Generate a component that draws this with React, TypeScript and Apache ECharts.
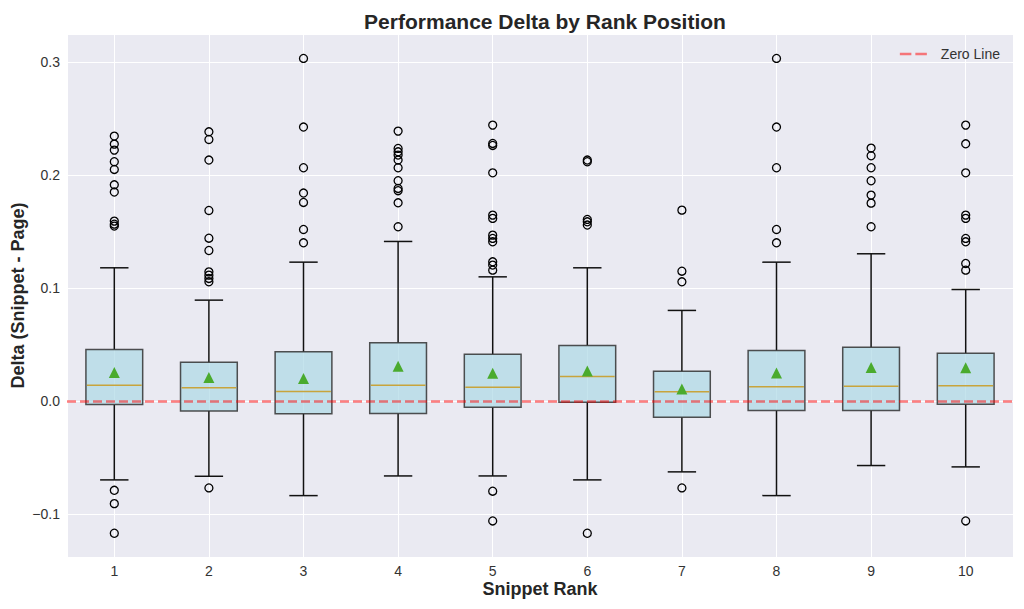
import React, { useEffect, useRef } from "react";
import * as echarts from "echarts";

const ranks = [1, 2, 3, 4, 5, 6, 7, 8, 9, 10];
const whiskerLow = [-0.0696, -0.0664, -0.0835, -0.0661, -0.0661, -0.0696, -0.0625, -0.0835, -0.0569, -0.0581];
const q1 = [-0.003, -0.0086, -0.0112, -0.0109, -0.0053, -0.0009, -0.0142, -0.0083, -0.0083, -0.0027];
const median = [0.0142, 0.0118, 0.0086, 0.0142, 0.0124, 0.0218, 0.0083, 0.0127, 0.0133, 0.0136];
const q3 = [0.0457, 0.0345, 0.0437, 0.0516, 0.0416, 0.0493, 0.0265, 0.0448, 0.0478, 0.0425];
const whiskerHigh = [0.118, 0.0894, 0.123, 0.1413, 0.11, 0.118, 0.0803, 0.123, 0.1304, 0.0988];
const means = [0.0254, 0.021, 0.0201, 0.031, 0.0248, 0.0268, 0.0109, 0.025, 0.0298, 0.0295];
const outliers: number[][] = [
  [0.2345, 0.2274, 0.2221, 0.2118, 0.205, 0.1914, 0.185, 0.1593, 0.1566, 0.1549, -0.0788, -0.0906, -0.1168],
  [0.2383, 0.2315, 0.2133, 0.1687, 0.1442, 0.1333, 0.1144, 0.1115, 0.1086, 0.1056, -0.0767],
  [0.3032, 0.2425, 0.2065, 0.1841, 0.1758, 0.1519, 0.1401],
  [0.2389, 0.2236, 0.2206, 0.2177, 0.2133, 0.2065, 0.195, 0.1882, 0.1862, 0.1755, 0.1543],
  [0.2442, 0.228, 0.2262, 0.202, 0.1646, 0.1617, 0.1469, 0.144, 0.141, 0.1233, 0.1204, 0.1159, -0.0796, -0.1059],
  [0.2133, 0.2118, 0.1608, 0.1587, 0.1558, -0.1168],
  [0.169, 0.115, 0.1056, -0.0767],
  [0.3032, 0.2425, 0.2065, 0.1519, 0.1401],
  [0.2239, 0.2171, 0.2065, 0.195, 0.1823, 0.1752, 0.1543],
  [0.2442, 0.2277, 0.202, 0.1646, 0.1617, 0.144, 0.141, 0.1218, 0.1159, -0.1059],
];

const FONT = "'Liberation Sans', Arial, sans-serif";
const ZERO_COLOR = "rgba(255,0,0,0.5)";

export default function App() {
  const ref = useRef<HTMLDivElement>(null);
  useEffect(() => {
    if (!ref.current) return;
    const chart = echarts.init(ref.current, null, { renderer: "svg" });
    const boxData = ranks.map((r, i) => [r, whiskerLow[i], q1[i], median[i], q3[i], whiskerHigh[i]]);
    const meanData = ranks.map((r, i) => [r, means[i]]);
    const outlierData: number[][] = [];
    outliers.forEach((arr, i) => arr.forEach((v) => outlierData.push([ranks[i], v])));

    chart.setOption({
      animation: false,
      backgroundColor: "#ffffff",
      textStyle: { fontFamily: FONT },
      title: {
        text: "Performance Delta by Rank Position",
        left: 540,
        textAlign: "center",
        top: 6,
        textStyle: { fontFamily: FONT, fontSize: 21, fontWeight: "bold", color: "#262626" },
      },
      legend: {
        data: [
          {
            name: "Zero Line",
            icon: "path://M0,0H11.5V2.5H0Z M15.5,0H27V2.5H15.5Z",
            itemStyle: { color: ZERO_COLOR },
          },
        ],
        right: 19,
        top: 42,
        itemWidth: 27,
        itemHeight: 14,
        itemGap: 10,
        textStyle: { fontFamily: FONT, fontSize: 14, color: "#333", padding: [0, 0, 0, 9] },
      },
      grid: {
        left: 67,
        right: 11,
        top: 34,
        bottom: 52,
        show: true,
        containLabel: false,
        outerBoundsMode: "none",
        backgroundColor: "#EAEAF2",
        borderWidth: 0,
      },
      xAxis: {
        type: "value",
        min: 0.5,
        max: 10.5,
        splitNumber: 10,
        name: "Snippet Rank",
        nameLocation: "middle",
        nameGap: 23,
        nameMoveOverlap: false,
        nameTextStyle: { fontFamily: FONT, fontSize: 18, fontWeight: "bold", color: "#262626" },
        axisLine: { show: false },
        axisTick: { show: false },
        axisLabel: {
          fontFamily: FONT,
          fontSize: 14,
          color: "#333",
          margin: 7,
          formatter: (v: number) => (Math.abs(v - Math.round(v)) > 1e-6 ? "" : String(Math.round(v))),
        },
        splitLine: { show: true, lineStyle: { color: "#ffffff", width: 1 } },
      },
      yAxis: {
        type: "value",
        min: -0.1378,
        max: 0.3248,
        splitNumber: 5,
        name: "Delta (Snippet - Page)",
        nameLocation: "middle",
        nameGap: 40,
        nameMoveOverlap: false,
        nameTextStyle: { fontFamily: FONT, fontSize: 18, fontWeight: "bold", color: "#262626" },
        axisLine: { show: false },
        axisTick: { show: false },
        axisLabel: {
          fontFamily: FONT,
          fontSize: 14,
          color: "#333",
          margin: 7,
          formatter: (v: number) => {
            const t = v * 10;
            if (Math.abs(t - Math.round(t)) > 1e-6) return "";
            return (Math.round(t) / 10).toFixed(1).replace("-", "\u2212");
          },
        },
        splitLine: { show: true, lineStyle: { color: "#ffffff", width: 1 } },
      },
      series: [
        {
          type: "custom",
          name: "boxes",
          z: 2,
          encode: { x: 0, y: [1, 2, 3, 4, 5] },
          data: boxData,
          renderItem: (params: any, api: any) => {
            const xv = api.value(0);
            const lo = api.coord([xv, api.value(1)]);
            const p1 = api.coord([xv, api.value(2)]);
            const pm = api.coord([xv, api.value(3)]);
            const p3 = api.coord([xv, api.value(4)]);
            const hi = api.coord([xv, api.value(5)]);
            const band = api.size([1, 0])[0];
            const bw = band * 0.6;
            const cw = band * 0.3;
            const cx = pm[0];
            const wStyle = { stroke: "#111111", lineWidth: 1.5 };
            return {
              type: "group",
              children: [
                { type: "line", shape: { x1: cx, y1: p1[1], x2: cx, y2: lo[1] }, style: wStyle },
                { type: "line", shape: { x1: cx, y1: p3[1], x2: cx, y2: hi[1] }, style: wStyle },
                { type: "line", shape: { x1: cx - cw / 2, y1: lo[1], x2: cx + cw / 2, y2: lo[1] }, style: wStyle },
                { type: "line", shape: { x1: cx - cw / 2, y1: hi[1], x2: cx + cw / 2, y2: hi[1] }, style: wStyle },
                {
                  type: "rect",
                  shape: { x: cx - bw / 2, y: p3[1], width: bw, height: p1[1] - p3[1] },
                  style: { fill: "rgba(173,216,230,0.7)", stroke: "rgba(50,50,50,0.85)", lineWidth: 1.5 },
                },
                {
                  type: "line",
                  shape: { x1: cx - bw / 2 + 1, y1: pm[1], x2: cx + bw / 2 - 1, y2: pm[1] },
                  style: { stroke: "#c8a43c", lineWidth: 1.5 },
                },
              ],
            };
          },
        },
        {
          type: "line",
          name: "Zero Line",
          data: [],
          symbol: "none",
          z: 3,
          itemStyle: { color: ZERO_COLOR },
          lineStyle: { color: ZERO_COLOR, width: 2.5, type: [9, 4] },
          markLine: {
            silent: true,
            symbol: "none",
            label: { show: false },
            lineStyle: { color: ZERO_COLOR, width: 2.5, type: [9, 4] },
            data: [{ yAxis: 0 }],
          },
        },
        {
          type: "scatter",
          name: "Mean",
          z: 4,
          symbol: "triangle",
          symbolSize: 11,
          itemStyle: { color: "#4aab2e", opacity: 1 },
          data: meanData,
        },
        {
          type: "scatter",
          name: "Outliers",
          z: 4,
          symbol: "circle",
          symbolSize: 8,
          itemStyle: { color: "rgba(0,0,0,0)", borderColor: "#000000", borderWidth: 1.3, opacity: 1 },
          data: outlierData,
        },
      ],
    });
    return () => chart.dispose();
  }, []);
  return (
    <div
      ref={ref}
      style={{ position: "fixed", left: 0, top: 0, width: 1024, height: 609, background: "#fff" }}
    />
  );
}
